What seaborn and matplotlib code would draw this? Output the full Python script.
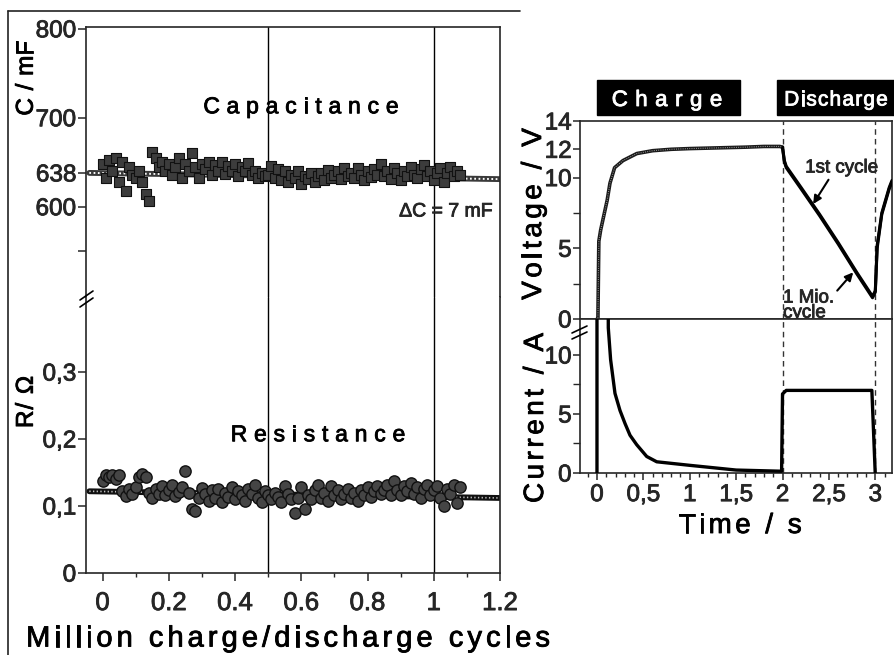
import numpy as np
import pandas as pd
import matplotlib
matplotlib.use("Agg")
import matplotlib.pyplot as plt
import seaborn as sns
from matplotlib.lines import Line2D
from matplotlib.patches import Rectangle
from matplotlib.font_manager import FontProperties
from matplotlib.ticker import FixedLocator, MultipleLocator
import matplotlib.patheffects as pe

# ---------------- data ----------------
cycles = np.round(np.arange(0.0, 1.085, 0.01), 2)  # million cycles

capacitance = [
    648, 632, 652, 640, 655, 628, 650, 618, 645, 636,
    632, 640, 628, 614, 606, 662, 655, 645, 650, 640,
    648, 636, 645, 655, 632, 648, 640, 660, 645, 632,
    648, 642, 650, 636, 647, 640, 650, 637, 646, 640,
    648, 634, 645, 640, 649, 636, 640, 632, 638, 634,
    636, 646, 632, 642, 630, 640, 628, 636, 632, 640,
    626, 635, 631, 638, 628, 634, 638, 630, 641, 632,
    636, 640, 631, 643, 634, 638, 632, 644, 636, 630,
    640, 633, 642, 636, 648, 634, 640, 631, 644, 638,
    630, 640, 634, 645, 636, 632, 642, 647, 634, 640,
    630, 638, 643, 628, 638, 645, 634, 640, 636,
]

resistance = [
    0.138, 0.146, 0.143, 0.147, 0.141, 0.146, 0.122, 0.115, 0.125, 0.118,
    0.128, 0.143, 0.148, 0.144, 0.120, 0.112, 0.126, 0.118, 0.130, 0.116,
    0.124, 0.132, 0.115, 0.121, 0.128, 0.152, 0.120, 0.096, 0.092, 0.112,
    0.127, 0.118, 0.108, 0.124, 0.112, 0.126, 0.106, 0.120, 0.114, 0.128,
    0.110, 0.122, 0.116, 0.108, 0.126, 0.118, 0.132, 0.112, 0.106, 0.122,
    0.117, 0.110, 0.120, 0.114, 0.106, 0.130, 0.118, 0.110, 0.090, 0.112,
    0.128, 0.095, 0.116, 0.110, 0.124, 0.132, 0.112, 0.120, 0.108, 0.130,
    0.116, 0.124, 0.110, 0.118, 0.126, 0.112, 0.120, 0.108, 0.124, 0.116,
    0.128, 0.114, 0.122, 0.130, 0.118, 0.124, 0.132, 0.116, 0.138, 0.124,
    0.116, 0.130, 0.122, 0.134, 0.118, 0.128, 0.112, 0.126, 0.132, 0.116,
    0.124, 0.130, 0.112, 0.100, 0.126, 0.118, 0.132, 0.104, 0.128,
]

# linear trend lines over the cycling test
trend_x = [-0.04, 1.2]
trend_C = [638, 631]
trend_R = [0.122, 0.112]

# voltage during one charge / discharge cycle
t_charge = [0.0, 0.01, 0.02, 0.04, 0.07, 0.11, 0.14, 0.19, 0.28, 0.43,
            0.60, 0.80, 1.00, 1.30, 1.60, 1.80, 1.97, 2.00]
v_charge = [0.0, 0.0, 5.5, 6.3, 7.2, 8.4, 9.6, 10.7, 11.2, 11.7,
            11.9, 12.0, 12.05, 12.1, 12.15, 12.2, 12.2, 12.15]

t_dis = [2.00, 2.02, 2.04, 2.20, 2.40, 2.60, 2.80, 2.97, 3.00, 3.02, 3.07, 3.15, 3.18]
v_dis_first = [12.15, 11.2, 10.8, 9.3, 7.4, 5.4, 3.3, 1.6, 2.0, 5.2, 7.5, 9.3, 9.8]
v_dis_million = [12.1, 11.1, 10.7, 9.2, 7.3, 5.3, 3.2, 1.5, 1.9, 5.0, 7.4, 9.2, 9.7]

# current during the same cycle
t_cur = [0.0, 0.0, 0.115, 0.122, 0.147, 0.194, 0.248, 0.302, 0.356, 0.428,
         0.482, 0.536, 0.644, 1.00, 1.50, 1.99, 2.00, 2.04, 2.50, 2.963, 2.999]
i_cur = [0.0, 40.0, 40.0, 12.3, 9.6, 6.75, 5.3, 4.2, 3.2, 2.4,
         1.9, 1.4, 0.95, 0.65, 0.25, 0.15, 6.7, 7.0, 7.0, 7.0, 0.0]

cyc_ticks = [0, 0.2, 0.4, 0.6, 0.8, 1.0, 1.2]
cyc_labels = ["0", "0.2", "0.4", "0.6", "0.8", "1", "1.2"]
time_ticks = [0, 0.5, 1, 1.5, 2, 2.5, 3]
time_labels = ["0", "0,5", "1", "1,5", "2", "2,5", "3"]

# ---------------- figure ----------------
W, H = 894, 655
sns.set_style("ticks")
FAM = ["Liberation Sans", "DejaVu Sans"]
plt.rcParams["font.family"] = FAM
plt.rcParams["axes.linewidth"] = 1.2
plt.rcParams["xtick.major.width"] = 1.1
plt.rcParams["ytick.major.width"] = 1.1
plt.rcParams["xtick.minor.width"] = 1.0
plt.rcParams["ytick.minor.width"] = 1.0

fig = plt.figure(figsize=(W / 100, H / 100), dpi=100)
fig.patch.set_facecolor("white")


def box(l, t, r, b):
    return [l / W, 1 - b / H, (r - l) / W, (b - t) / H]


def fx(x):
    return x / W


def fy(y):
    return 1 - y / H


axC = fig.add_axes(box(86, 27, 500, 297))
axR = fig.add_axes(box(86, 297, 500, 573), sharex=axC)
axV = fig.add_axes(box(580, 121, 892, 319))
axI = fig.add_axes(box(580, 319, 892, 473), sharex=axV)

# ---------- capacitance ----------
sns.lineplot(x=trend_x, y=trend_C, ax=axC, color="#3a3a3a", lw=4.2, zorder=2)
axC.plot(trend_x, trend_C, color="white", lw=1.4, ls=(0, (0.9, 1.3)), zorder=2.1)
cap_df = pd.DataFrame({"cycles": cycles, "C": capacitance})
sns.scatterplot(data=cap_df, x="cycles", y="C", ax=axC, marker="s", s=62,
                color="#3c3c3c", edgecolor="#111111", linewidth=0.8,
                legend=False, zorder=3)

# ---------- resistance ----------
sns.lineplot(x=trend_x, y=trend_R, ax=axR, color="#111111", lw=4.2, zorder=2)
axR.plot(trend_x, trend_R, color="#bdbdbd", lw=1.2, ls=(0, (0.8, 1.4)), zorder=2.1)
res_df = pd.DataFrame({"cycles": cycles, "R": resistance})
sns.scatterplot(data=res_df, x="cycles", y="R", ax=axR, marker="o", s=66,
                color="#454545", edgecolor="#111111", linewidth=1.0,
                legend=False, zorder=3)

for ax in (axC, axR):
    ax.axvline(0.5, color="black", lw=1.0, zorder=1)
    ax.axvline(1.0, color="black", lw=1.0, zorder=1)
    ax.set_xlim(-0.05, 1.2)
    ax.set_xlabel("")
    ax.set_ylabel("")

axC.set_ylim(498.5, 802)
axC.spines["bottom"].set_visible(False)
axC.yaxis.set_major_locator(FixedLocator([800, 700, 638, 600, 550]))
axC.set_yticklabels(["800", "700", "638", "600", ""])
axC.tick_params(axis="x", which="both", bottom=False, labelbottom=False)
axC.tick_params(axis="y", labelsize=17.5, length=6, pad=1, direction="out")

axR.set_ylim(0, 0.412)
axR.spines["top"].set_visible(False)
axR.yaxis.set_major_locator(FixedLocator([0, 0.1, 0.2, 0.3]))
axR.set_yticklabels(["0", "0,1", "0,2", "0,3"])
axR.set_xticks(cyc_ticks)
axR.set_xticklabels(cyc_labels)
axR.xaxis.set_minor_locator(MultipleLocator(0.1))
axR.tick_params(axis="y", labelsize=17.5, length=6, pad=1, direction="out")
axR.tick_params(axis="x", which="major", labelsize=18.5, length=6, pad=7, direction="out")
axR.tick_params(axis="x", which="minor", length=3, direction="out")

# ---------- voltage ----------
volt_df = pd.DataFrame({"t": t_charge, "V": v_charge})
sns.lineplot(data=volt_df, x="t", y="V", ax=axV, color="#1a1a1a", lw=2.6,
             sort=False, estimator=None, zorder=3)
axV.plot(t_charge, v_charge, color="#9a9a9a", lw=0.8, ls=(0, (0.8, 1.2)), zorder=3.1)
for vals in (v_dis_first, v_dis_million):
    sns.lineplot(x=t_dis, y=vals, ax=axV, color="black", lw=2.2,
                 sort=False, estimator=None, zorder=3)

axV.set_xlim(-0.183, 3.18)
axV.set_ylim(0, 14)
axV.yaxis.set_major_locator(FixedLocator([0, 5, 10, 12, 14]))
axV.yaxis.set_minor_locator(FixedLocator([2.5, 7.5]))
axV.tick_params(axis="y", which="major", labelsize=17.5, length=5, pad=1, direction="out")
axV.tick_params(axis="y", which="minor", length=5, direction="out")
axV.tick_params(axis="x", which="both", bottom=False, labelbottom=False)
axV.set_xlabel("")
axV.set_ylabel("")

# ---------- current ----------
cur_df = pd.DataFrame({"t": t_cur, "I": i_cur})
sns.lineplot(data=cur_df, x="t", y="I", ax=axI, color="black", lw=2.4,
             sort=False, estimator=None, zorder=3)
axI.set_ylim(0, 13.05)
axI.yaxis.set_major_locator(FixedLocator([0, 5, 10]))
axI.yaxis.set_minor_locator(FixedLocator([2.5, 7.5]))
axI.set_xticks(time_ticks)
axI.set_xticklabels(time_labels)
axI.xaxis.set_minor_locator(MultipleLocator(0.1))
axI.tick_params(axis="y", which="major", labelsize=17.5, length=5, pad=1, direction="out")
axI.tick_params(axis="y", which="minor", length=5, direction="out")
axI.tick_params(axis="x", which="major", labelsize=17.5, length=5, pad=3, direction="out")
axI.tick_params(axis="x", which="minor", length=3, direction="out")
axI.set_xlabel("")
axI.set_ylabel("")

for ax in (axV, axI):
    for tx in (2, 3):
        ax.axvline(tx, color="#333333", lw=1.0, ls=(0, (4, 3)), zorder=1)

# annotations on the discharge branch
axV.annotate("1st cycle", xy=(2.33, 8.13), xytext=(2.244, 10.68),
             fontsize=13.5, va="center", ha="left",
             arrowprops=dict(arrowstyle="-|>", lw=1.5, color="black",
                             mutation_scale=12, shrinkA=0, shrinkB=0,
                             relpos=(0.35, 0.0)))
axV.annotate("1 Mio.\ncycle", xy=(2.762, 3.3), xytext=(2.006, 0.95),
             fontsize=13.5, va="center", ha="left", linespacing=0.85,
             arrowprops=dict(arrowstyle="-|>", lw=1.5, color="black",
                             mutation_scale=12, shrinkA=0, shrinkB=0,
                             relpos=(1.0, 0.85)),
             annotation_clip=False, zorder=5)

# ---------- letter-spaced text helper ----------
renderer = fig.canvas.get_renderer()


def tracked(x, y, s, size, track, rotation=0, color="black"):
    fp = FontProperties(family=FAM, size=size)
    px = size * 100 / 72
    adv = []
    for ch in s:
        if ch == " ":
            adv.append(0.278 * px)
        else:
            w, _, _ = renderer.get_text_width_height_descent(ch, fp, ismath=False)
            adv.append(w)
    total = sum(adv) + track * (len(s) - 1)
    pos = -total / 2
    off = 0.36 * px
    for ch, a in zip(s, adv):
        if ch != " ":
            if rotation == 0:
                fig.text(fx(x + pos), fy(y + off), ch, fontproperties=fp,
                         color=color, ha="left", va="baseline")
            else:
                fig.text(fx(x + off), fy(y - pos), ch, fontproperties=fp,
                         color=color, ha="left", va="baseline", rotation=90,
                         rotation_mode="anchor")
        pos += a + track


# panel titles and axis labels
tracked(301, 105, "Capacitance", 16.5, 6.8)
tracked(318, 433, "Resistance", 16.5, 6.8)
tracked(288, 636, "Million charge/discharge cycles", 21, 4.0)
tracked(24, 78, "C / mF", 17.5, 0.5, rotation=90)
tracked(24, 402, "R/ Ω", 17.5, 1.0, rotation=90)
tracked(531, 214, "Voltage / V", 20, 3.6, rotation=90)
tracked(533, 418, "Current / A", 20, 3.6, rotation=90)
tracked(740, 523, "Time / s", 20, 3.5)
fig.text(fx(446), fy(212), "ΔC = 7 mF", fontsize=14, ha="center", va="center")

# black header boxes
fig.add_artist(Rectangle((fx(597), fy(115)), (740 - 597) / W, 35 / H,
                         transform=fig.transFigure, color="black", zorder=0))
fig.add_artist(Rectangle((fx(777), fy(115)), (894 - 777) / W, 35 / H,
                         transform=fig.transFigure, color="black", zorder=0))
tracked(667, 98, "Charge", 16, 7.5, color="white")
tracked(836, 98, "Discharge", 15, 1.2, color="white")

# axis break marks
for (x0, y0, x1, y1) in [(80, 300, 93, 291), (80, 307, 93, 298)]:
    fig.add_artist(Line2D([fx(x0), fx(x1)], [fy(y0), fy(y1)], color="black",
                          lw=1.2, transform=fig.transFigure))
for (x0, y0, x1, y1) in [(572, 333, 587, 326), (572, 339, 587, 332)]:
    fig.add_artist(Line2D([fx(x0), fx(x1)], [fy(y0), fy(y1)], color="black",
                          lw=1.2, transform=fig.transFigure))

# frame around the left panel
fig.add_artist(Line2D([fx(8), fx(8)], [fy(11), fy(655)], color="#222222",
                      lw=1.2, transform=fig.transFigure))
fig.add_artist(Line2D([fx(8), fx(520)], [fy(11), fy(11)], color="#222222",
                      lw=1.2, transform=fig.transFigure))

# slightly heavier strokes on all lettering, tick labels included
fig.canvas.draw()
texts = list(fig.findobj(matplotlib.text.Text))
for ax in (axC, axR, axV, axI):
    texts += ax.get_xticklabels() + ax.get_yticklabels()
for t in texts:
    if t.get_text():
        t.set_path_effects([pe.withStroke(linewidth=0.6, foreground=t.get_color())])

fig.savefig("out.png", dpi=100, facecolor="white")
